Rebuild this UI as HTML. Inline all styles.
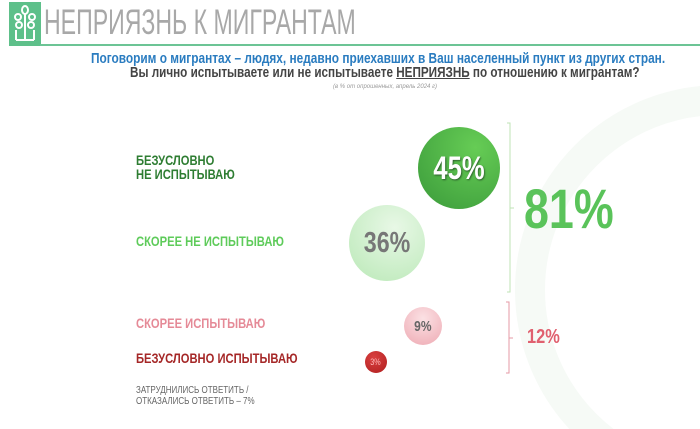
<!DOCTYPE html>
<html style="overflow:hidden;height:429px"><head><meta charset="utf-8"><style>
body{margin:0;width:700px;height:429px;background:#fff;position:relative;overflow:hidden;font-family:"Liberation Sans",sans-serif}
.a{position:absolute;white-space:nowrap;transform-origin:0 0}
.n{transform:scaleX(0.8)}
.c{position:absolute;border-radius:50%;display:flex;align-items:center;justify-content:center;font-weight:bold}
.c span{display:inline-block;transform:scaleX(0.8)}
</style></head><body>
<svg class="a" style="left:0;top:0;display:block" width="700" height="429">
<circle cx="720" cy="290" r="190" fill="none" stroke="#f6faf6" stroke-width="30"/>
<rect x="9" y="2" width="32" height="44" fill="#5ec08a"/>
<g stroke="#fff" stroke-width="2" fill="none">
<line x1="25" y1="14" x2="25" y2="40"/><line x1="16" y1="40" x2="34" y2="40"/><line x1="16" y1="30" x2="16" y2="40"/><line x1="34" y1="30" x2="34" y2="40"/>
<ellipse cx="25" cy="10" rx="3" ry="4"/><ellipse cx="18" cy="17" rx="3" ry="3"/><ellipse cx="32" cy="17" rx="3" ry="3"/><ellipse cx="19" cy="25" rx="3" ry="3"/><ellipse cx="31" cy="25" rx="3" ry="3"/>
</g>
<line x1="40" y1="45" x2="700" y2="45" stroke="#6cc495" stroke-width="2"/>
<polyline points="507,123 510,123 510,292 507,292" fill="none" stroke="#bfe3b6" stroke-width="1"/>
<line x1="510" y1="208" x2="514" y2="208" stroke="#bfe3b6"/>
<polyline points="506,302 509,302 509,373 506,373" fill="none" stroke="#e59aa6" stroke-width="1"/>
<line x1="509" y1="338" x2="513" y2="338" stroke="#e59aa6"/>
</svg>
<div class="a" style="left:44px;top:3px;font-size:35px;color:#a8a8a8;transform:scaleX(0.66)">НЕПРИЯЗНЬ К МИГРАНТАМ</div>
<div class="a" style="left:91px;top:50px;font-size:15px;font-weight:bold;color:#2a7cc0;transform:scaleX(0.79)">Поговорим о мигрантах – людях, недавно приехавших в Ваш населенный пункт из других стран.</div>
<div class="a" style="left:130px;top:64px;font-size:15px;font-weight:bold;color:#444;transform:scaleX(0.78)">Вы лично испытываете или не испытываете <u>НЕПРИЯЗНЬ</u> по отношению к мигрантам?</div>
<div class="a" style="left:333px;top:84px;font-size:6px;font-style:italic;color:#999">(в % от опрошенных, апрель 2024 г)</div>
<div class="a n" style="left:136px;top:153px;font-size:14px;font-weight:bold;color:#2e7d32;line-height:14px">БЕЗУСЛОВНО<br>НЕ ИСПЫТЫВАЮ</div>
<div class="a n" style="left:136px;top:233px;font-size:14px;font-weight:bold;color:#5ecb5a">СКОРЕЕ НЕ ИСПЫТЫВАЮ</div>
<div class="a n" style="left:136px;top:315px;font-size:14px;font-weight:bold;color:#e58a97">СКОРЕЕ ИСПЫТЫВАЮ</div>
<div class="a n" style="left:136px;top:350px;font-size:14px;font-weight:bold;color:#a52727">БЕЗУСЛОВНО ИСПЫТЫВАЮ</div>
<div class="a n" style="left:136px;top:385px;font-size:10px;color:#666;line-height:11px">ЗАТРУДНИЛИСЬ ОТВЕТИТЬ /<br>ОТКАЗАЛИСЬ ОТВЕТИТЬ – 7%</div>
<div class="c" style="left:418px;top:127px;width:82px;height:82px;background:radial-gradient(circle at 70% 25%,#66cc55,#3a9a3a);color:#fff;font-size:32px;text-shadow:1px 1px 2px #2a5a2a"><span>45%</span></div>
<div class="c" style="left:349px;top:205px;width:76px;height:76px;background:radial-gradient(circle at 60% 30%,#e8f8e6,#b9e8b6);color:#777;font-size:29px"><span>36%</span></div>
<div class="c" style="left:404px;top:307px;width:38px;height:38px;background:radial-gradient(circle at 50% 30%,#fbe1e4,#eeaab3);color:#666;font-size:15px"><span>9%</span></div>
<div class="c" style="left:365px;top:351px;width:22px;height:22px;background:radial-gradient(circle at 40% 30%,#d94040,#b01f1f);color:#fbb;font-size:9px;font-weight:normal"><span>3%</span></div>
<div class="a" style="left:524px;top:176px;font-size:56px;font-weight:bold;color:#5ac35a;transform:scaleX(0.8)">81%</div>
<div class="a" style="left:527px;top:326px;font-size:20px;font-weight:bold;color:#e0606f;transform:scaleX(0.82)">12%</div>
</body></html>
